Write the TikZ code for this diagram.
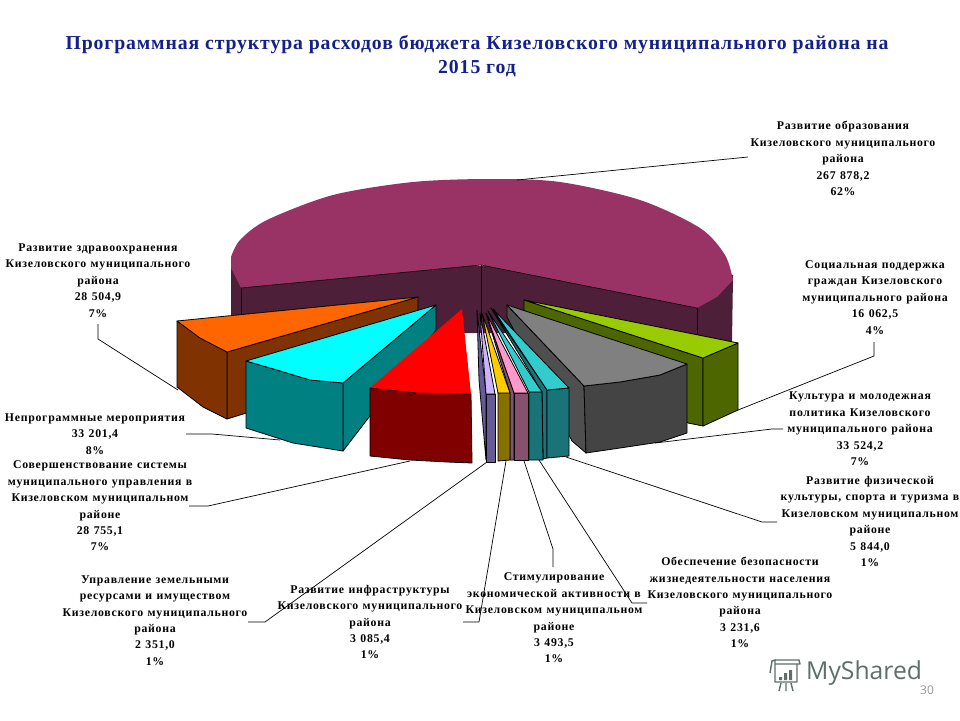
\documentclass[tikz,border=0pt]{standalone}
\usepackage{fontspec}
\setmainfont{Liberation Serif}
\newfontfamily\labfont[LetterSpace=6,WordSpace=1.2]{Liberation Serif}
\newfontfamily\titfont[LetterSpace=4.5]{Liberation Serif}
\newfontfamily\logofont{Open Sans}
\definecolor{titleblue}{HTML}{14208C}
\definecolor{plumtop}{HTML}{993366}
\definecolor{plumwall}{HTML}{4D1F38}
\definecolor{orangetop}{HTML}{FF6600}
\definecolor{orangewall}{HTML}{803300}
\definecolor{cyantop}{HTML}{00FFFF}
\definecolor{cyanwall}{HTML}{008080}
\definecolor{redtop}{HTML}{FF0000}
\definecolor{redwall}{HTML}{800000}
\definecolor{liltop}{HTML}{CCB3FF}
\definecolor{lilwall}{HTML}{665A99}
\definecolor{yeltop}{HTML}{FFCC00}
\definecolor{yelwall}{HTML}{857000}
\definecolor{pinktop}{HTML}{FF99CC}
\definecolor{pinkwall}{HTML}{86506E}
\definecolor{teala}{HTML}{33CCCC}
\definecolor{tealb}{HTML}{1A7378}
\definecolor{graytop}{HTML}{808080}
\definecolor{graywall}{HTML}{444444}
\definecolor{grayside}{HTML}{4F4F4F}
\definecolor{limetop}{HTML}{99CC00}
\definecolor{limewall}{HTML}{4D6600}
\definecolor{logogreen}{HTML}{5F6E69}
\tikzset{
  face/.style={draw=black,line width=0.8pt,line join=round},
  label/.style={font=\labfont\bfseries\fontsize{11.8}{16.4}\selectfont,align=center,inner sep=0pt,text=black},
  title/.style={font=\titfont\bfseries\fontsize{19.75}{24}\selectfont,align=center,inner sep=0pt,text=titleblue},
  leader/.style={draw=black,line width=0.7pt,line join=miter}
}
\begin{document}
\begin{tikzpicture}[x=1pt,y=-1pt]
\useasboundingbox (0,0) rectangle (960,720);
\fill[white] (0,0) rectangle (960,720);

% main slice
\fill[plumwall] (231,257) -- (231,315) -- (420,333) -- (481,333) -- (697,335) -- (732,342) -- (733,275) -- cycle;
\fill[plumtop] (481,265) -- (241,288) -- (231,268)
  -- plot[smooth] coordinates {(231,257) (240,240) (267,220) (333,195) (413,182) (490,179) (560,182) (640,200) (700,228) (725,255) (733,280)}
  -- (717,297) -- (697,308) -- cycle;
\draw[black,line width=0.6pt] (241,288) -- (481,265) -- (697,308);
\draw[black,line width=0.6pt] (241,288) -- (241,315) (481,265) -- (481,333) (697,308) -- (697,335);

% orange
\filldraw[face,fill=orangewall] (418,297) -- (227,352) -- (227,419) -- (418,360) -- cycle;
\filldraw[face,fill=orangewall] (177,321) -- (227,352) -- (227,419) -- (203,407) -- (177,387) -- cycle;
\filldraw[face,fill=orangetop] (418,297) -- (177,321) -- (200,338) -- (227,352) -- cycle;

% cyan
\filldraw[face,fill=cyanwall] (436,305) -- (343,383) -- (343,451) -- (436,330) -- cycle;
\filldraw[face,fill=cyanwall] (246,361) -- (277,370) -- (310,380) -- (343,383) -- (343,451) -- (293,443) -- (246,428) -- cycle;
\filldraw[face,fill=cyantop] (436,305) -- (246,361) -- (277,370) -- (310,380) -- (343,383) -- cycle;

% red
\filldraw[face,fill=redwall] (370,388) -- (417,393) -- (471,394) -- (472,463) -- (447,462) -- (410,460) -- (370,456) -- cycle;
\fill[redtop] (462,309) -- (370,388) -- (417,393) -- (471,394) -- cycle;
\draw[black,line width=0.5pt] (370,388) -- (417,393) -- (471,394);

% lime
\filldraw[face,fill=limewall] (524,300) -- (524,311) -- (688,423) -- (703,426) -- (703,358) -- cycle;
\filldraw[face,fill=limewall] (703,358) -- (738,343) -- (738,410) -- (703,426) -- cycle;
\filldraw[face,fill=limetop] (524,300) -- (738,343) -- (703,358) -- cycle;

% gray
\filldraw[face,fill=grayside] (507,305) -- (507,317) -- (572,441) -- (586,453) -- (584,386) -- cycle;
\filldraw[face,fill=graywall] (584,386) -- (620,382) -- (660,375) -- (687,364) -- (687,433) -- (660,442) -- (620,448) -- (586,453) -- cycle;
\filldraw[face,fill=graytop] (507,305) -- (687,364) -- (660,375) -- (620,382) -- (584,386) -- cycle;

% small slices
\filldraw[face,fill=tealb] (491,308) -- (547,390) -- (547,458) -- (543,459) -- (542,392) -- cycle;
\filldraw[face,fill=tealb] (547,390) -- (569,388) -- (569,456) -- (558,457) -- (547,458) -- cycle;
\filldraw[face,fill=teala] (493,309) -- (547,390) -- (569,388) -- cycle;

\filldraw[face,fill=tealb] (529,392) -- (542,392) -- (543,460) -- (529,460) -- cycle;
\filldraw[face,fill=teala] (488,311) -- (529,392) -- (542,392) -- cycle;

\filldraw[face,fill=pinkwall] (486,313) -- (514,393) -- (514,460) -- (510,460) -- (510,393) -- cycle;
\filldraw[face,fill=pinkwall] (514,393) -- (528,393) -- (528,460) -- (514,460) -- cycle;
\filldraw[face,fill=pinktop] (486,313) -- (514,393) -- (528,393) -- cycle;

\filldraw[face,fill=yelwall] (498,393) -- (510,393) -- (510,460) -- (498,461) -- cycle;
\filldraw[face,fill=yeltop] (482,313) -- (498,393) -- (510,393) -- cycle;

\filldraw[face,fill=lilwall] (477,310) -- (486,394) -- (486,460) -- (479,380) -- cycle;
\filldraw[face,fill=lilwall] (486,394) -- (495,394) -- (495,462) -- (486,462) -- cycle;
\filldraw[face,fill=liltop] (480,313) -- (486,394) -- (495,394) -- cycle;

% labels
\node[title] (ttl) at (477,56) {Программная структура расходов бюджета Кизеловского муниципального района на\\2015 год};
\node[label] (edu) at (843,158.5) {Развитие образования\\Кизеловского муниципального\\района\\267 878,2\\62\%};
\node[label] (soc) at (875,297.5) {Социальная поддержка\\граждан Кизеловского\\муниципального района\\16 062,5\\4\%};
\node[label] (cul) at (860,429) {Культура и молодежная\\политика Кизеловского\\муниципального района\\33 524,2\\7\%};
\node[label] (phy) at (870,521.5) {Развитие физической\\культуры, спорта и туризма в\\Кизеловском муниципальном\\районе\\5 844,0\\1\%};
\node[label] (saf) at (740,602.5) {Обеспечение безопасности\\жизнедеятельности населения\\Кизеловского муниципального\\района\\3 231,6\\1\%};
\node[label] (sti) at (554,618) {Стимулирование\\экономической активности в\\Кизеловском муниципальном\\районе\\3 493,5\\1\%};
\node[label] (inf) at (370,622) {Развитие инфраструктуры\\Кизеловского муниципального\\района\\3 085,4\\1\%};
\node[label] (lan) at (155,620.5) {Управление земельными\\ресурсами и имуществом\\Кизеловского муниципального\\района\\2 351,0\\1\%};
\node[label] (gov) at (100,506) {Совершенствование системы\\муниципального управления в\\Кизеловском муниципальном\\районе\\28 755,1\\7\%};
\node[label] (non) at (95,434) {Непрограммные мероприятия\\33 201,4\\8\%};
\node[label] (hea) at (98,280.5) {Развитие здравоохранения\\Кизеловского муниципального\\района\\28 504,9\\7\%};

% leaders
\coordinate (pEdu) at (517,180); \coordinate (eEdu) at (748,157);
\coordinate (pSoc) at (738,410); \coordinate (kSoc) at (874,356); \coordinate (eSoc) at (874,342);
\coordinate (pCul) at (655,443); \coordinate (kCul) at (772,429); \coordinate (eCul) at (783,429);
\coordinate (pPhy) at (566,457); \coordinate (kPhy) at (762,522); \coordinate (ePhy) at (777,522);
\coordinate (pSaf) at (539,460); \coordinate (kSaf) at (632,603); \coordinate (eSaf) at (647,603);
\coordinate (pSti) at (524,461); \coordinate (kSti) at (553,549); \coordinate (eSti) at (553,567);
\coordinate (pInf) at (506,461); \coordinate (kInf) at (479,622); \coordinate (eInf) at (463,622);
\coordinate (pLan) at (487,462); \coordinate (kLan) at (265,622); \coordinate (eLan) at (248,622);
\coordinate (pGov) at (410,461); \coordinate (kGov) at (208,506); \coordinate (eGov) at (189,506);
\coordinate (pNon) at (280,440); \coordinate (kNon) at (212,434); \coordinate (eNon) at (186,434);
\coordinate (pHea) at (178,390); \coordinate (kHea) at (98,339); \coordinate (eHea) at (98,324);
\draw[leader] (pEdu) -- (eEdu);
\draw[leader] (pSoc) -- (kSoc) -- (eSoc);
\draw[leader] (pCul) -- (kCul) -- (eCul);
\draw[leader] (pPhy) -- (kPhy) -- (ePhy);
\draw[leader] (pSaf) -- (kSaf) -- (eSaf);
\draw[leader] (pSti) -- (kSti) -- (eSti);
\draw[leader] (pInf) -- (kInf) -- (eInf);
\draw[leader] (pLan) -- (kLan) -- (eLan);
\draw[leader] (pGov) -- (kGov) -- (eGov);
\draw[leader] (pNon) -- (kNon) -- (eNon);
\draw[leader] (pHea) -- (kHea) -- (eHea);

% watermark
\node[inner sep=0pt,anchor=west,text=logogreen,font=\logofont\fontsize{24.7}{28}\selectfont] (logo) at (806,673) {MyShared};
\node[inner sep=0pt,text=gray!80,font=\logofont\fontsize{12}{14}\selectfont] (pg) at (927,690) {30};
\draw[logogreen,line width=1.4pt,line join=round] (775,665) -- (775,660) -- (799,660) -- (800,664) -- (775,664) -- (775,682) -- (797,682) -- (797,664);
\draw[logogreen,line width=1.4pt] (770,673) -- (772,661) -- (776,660);
\fill[logogreen] (779,677) rectangle (782,680) (784,673) rectangle (787,680) (789,670) rectangle (792,680);
\draw[logogreen,line width=1.4pt] (781,683) -- (779,691) (786,683) -- (786,691) (791,683) -- (793,691);
\end{tikzpicture}
\end{document}
